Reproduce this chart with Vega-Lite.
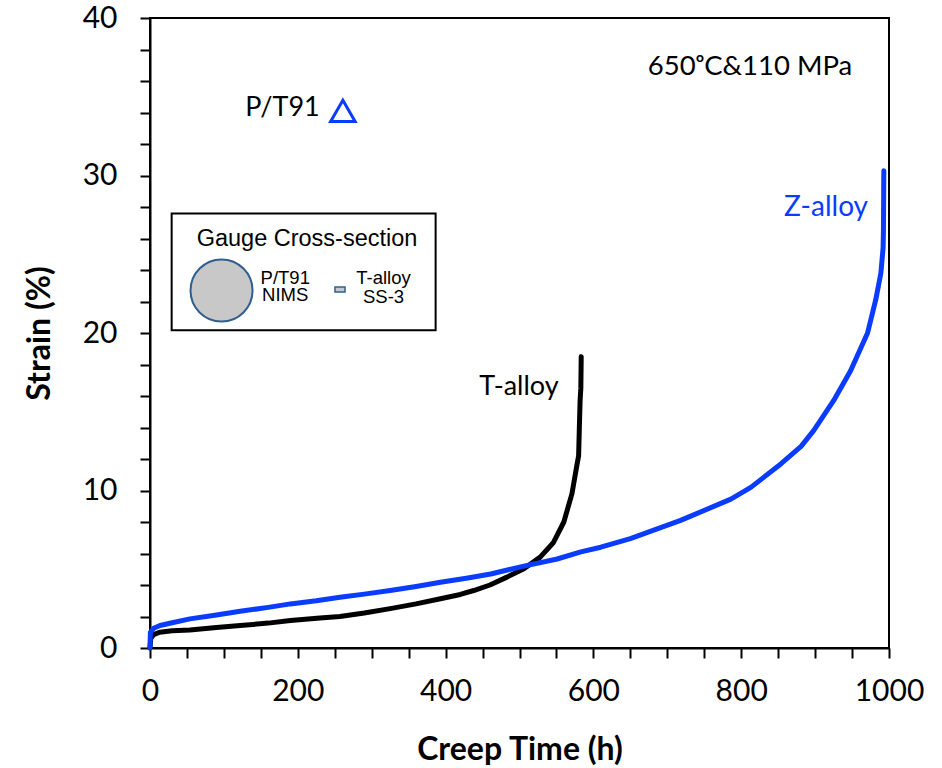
{
  "$schema": "https://vega.github.io/schema/vega-lite/v6.json",
  "width": 739,
  "height": 630,
  "autosize": {"type": "none"},
  "padding": {"left": 150, "top": 18, "right": 53, "bottom": 120},
  "background": "white",
  "config": {
    "view": {"stroke": "black", "strokeWidth": 2},
    "font": "Lato"
  },
  "datasets": {
    "curves": [
      {"alloy": "T-alloy", "t": 0, "strain": 0},
      {"alloy": "T-alloy", "t": 1, "strain": 0.6},
      {"alloy": "T-alloy", "t": 5, "strain": 0.85},
      {"alloy": "T-alloy", "t": 13, "strain": 1.0},
      {"alloy": "T-alloy", "t": 30, "strain": 1.1},
      {"alloy": "T-alloy", "t": 54, "strain": 1.15},
      {"alloy": "T-alloy", "t": 90, "strain": 1.3},
      {"alloy": "T-alloy", "t": 122, "strain": 1.43},
      {"alloy": "T-alloy", "t": 160, "strain": 1.58},
      {"alloy": "T-alloy", "t": 190, "strain": 1.75},
      {"alloy": "T-alloy", "t": 230, "strain": 1.9},
      {"alloy": "T-alloy", "t": 257, "strain": 2.0},
      {"alloy": "T-alloy", "t": 290, "strain": 2.22},
      {"alloy": "T-alloy", "t": 325, "strain": 2.5},
      {"alloy": "T-alloy", "t": 360, "strain": 2.8},
      {"alloy": "T-alloy", "t": 393, "strain": 3.13},
      {"alloy": "T-alloy", "t": 420, "strain": 3.4},
      {"alloy": "T-alloy", "t": 438, "strain": 3.65},
      {"alloy": "T-alloy", "t": 460, "strain": 4.0},
      {"alloy": "T-alloy", "t": 483, "strain": 4.5},
      {"alloy": "T-alloy", "t": 506, "strain": 5.03},
      {"alloy": "T-alloy", "t": 528, "strain": 5.77},
      {"alloy": "T-alloy", "t": 546, "strain": 6.7},
      {"alloy": "T-alloy", "t": 560, "strain": 8.0},
      {"alloy": "T-alloy", "t": 571, "strain": 9.8},
      {"alloy": "T-alloy", "t": 578, "strain": 11.7},
      {"alloy": "T-alloy", "t": 580, "strain": 12.2},
      {"alloy": "T-alloy", "t": 581, "strain": 14.0},
      {"alloy": "T-alloy", "t": 582, "strain": 15.7},
      {"alloy": "T-alloy", "t": 583, "strain": 16.5},
      {"alloy": "T-alloy", "t": 583.5, "strain": 18.5},
      {"alloy": "Z-alloy", "t": 0, "strain": 0},
      {"alloy": "Z-alloy", "t": 0.5, "strain": 1.0},
      {"alloy": "Z-alloy", "t": 5, "strain": 1.25},
      {"alloy": "Z-alloy", "t": 13.5, "strain": 1.43},
      {"alloy": "Z-alloy", "t": 30, "strain": 1.6},
      {"alloy": "Z-alloy", "t": 54, "strain": 1.85},
      {"alloy": "Z-alloy", "t": 90, "strain": 2.1},
      {"alloy": "Z-alloy", "t": 122, "strain": 2.33},
      {"alloy": "Z-alloy", "t": 160, "strain": 2.58},
      {"alloy": "Z-alloy", "t": 190, "strain": 2.8},
      {"alloy": "Z-alloy", "t": 225, "strain": 3.0},
      {"alloy": "Z-alloy", "t": 257, "strain": 3.22},
      {"alloy": "Z-alloy", "t": 290, "strain": 3.42},
      {"alloy": "Z-alloy", "t": 325, "strain": 3.65},
      {"alloy": "Z-alloy", "t": 360, "strain": 3.9},
      {"alloy": "Z-alloy", "t": 393, "strain": 4.17},
      {"alloy": "Z-alloy", "t": 430, "strain": 4.45},
      {"alloy": "Z-alloy", "t": 461, "strain": 4.7},
      {"alloy": "Z-alloy", "t": 506, "strain": 5.2},
      {"alloy": "Z-alloy", "t": 551, "strain": 5.65},
      {"alloy": "Z-alloy", "t": 583, "strain": 6.1},
      {"alloy": "Z-alloy", "t": 610, "strain": 6.4},
      {"alloy": "Z-alloy", "t": 650, "strain": 6.95},
      {"alloy": "Z-alloy", "t": 718, "strain": 8.1},
      {"alloy": "Z-alloy", "t": 786, "strain": 9.45},
      {"alloy": "Z-alloy", "t": 813, "strain": 10.2},
      {"alloy": "Z-alloy", "t": 854, "strain": 11.7},
      {"alloy": "Z-alloy", "t": 881, "strain": 12.8},
      {"alloy": "Z-alloy", "t": 898, "strain": 13.8},
      {"alloy": "Z-alloy", "t": 925, "strain": 15.7},
      {"alloy": "Z-alloy", "t": 948, "strain": 17.6},
      {"alloy": "Z-alloy", "t": 971, "strain": 20.0},
      {"alloy": "Z-alloy", "t": 982, "strain": 22.1},
      {"alloy": "Z-alloy", "t": 989, "strain": 23.8},
      {"alloy": "Z-alloy", "t": 992, "strain": 25.4},
      {"alloy": "Z-alloy", "t": 992.5, "strain": 26.5},
      {"alloy": "Z-alloy", "t": 993, "strain": 30.3}
    ]
  },
  "layer": [
    {
      "data": {"values": [{"t0": 29.3, "t1": 386.5, "s0": 20.17, "s1": 27.59}]},
      "mark": {"type": "rect", "fill": "white", "stroke": "black", "strokeWidth": 2},
      "encoding": {
        "x": {"field": "t0", "type": "quantitative"},
        "x2": {"field": "t1"},
        "y": {"field": "s0", "type": "quantitative"},
        "y2": {"field": "s1"}
      }
    },
    {
      "data": {"name": "curves"},
      "mark": {"type": "line", "strokeWidth": 5, "strokeJoin": "round", "strokeCap": "round"},
      "encoding": {
        "x": {
          "field": "t", "type": "quantitative",
          "scale": {"domain": [0, 1000], "nice": false, "zero": true},
          "axis": {
            "title": "Creep Time (h)",
            "values": [0,50,100,150,200,250,300,350,400,450,500,550,600,650,700,750,800,850,900,950,1000],
            "tickCount": 30,
            "format": "d",
            "labelExpr": "datum.value % 200 === 0 ? datum.label : ''",
            "grid": false, "tickSize": 10, "tickWidth": 2, "tickColor": "black",
            "domainWidth": 2, "domainColor": "black",
            "labelFont": "Lato", "labelFontSize": 30, "labelColor": "black",
            "labelFlush": false, "labelOverlap": false, "labelBound": false, "labelPadding": 18,
            "titleFont": "Lato", "titleFontSize": 32, "titleFontWeight": "bold", "titleColor": "black", "titlePadding": 28
          }
        },
        "y": {
          "field": "strain", "type": "quantitative",
          "scale": {"domain": [0, 40], "nice": false},
          "axis": {
            "title": "Strain (%)",
            "values": [0,2,4,6,8,10,12,14,16,18,20,22,24,26,28,30,32,34,36,38,40],
            "tickCount": 30,
            "format": "d",
            "labelExpr": "datum.value % 10 === 0 ? datum.label : ''",
            "grid": false, "tickSize": 10, "tickWidth": 2, "tickColor": "black",
            "domainWidth": 2, "domainColor": "black",
            "labelFont": "Lato", "labelFontSize": 30, "labelColor": "black",
            "labelFlush": false, "labelOverlap": false, "labelBound": false, "labelPadding": 23,
            "titleFont": "Lato", "titleFontSize": 32, "titleFontWeight": "bold", "titleColor": "black", "titlePadding": 26
          }
        },
        "color": {
          "field": "alloy", "type": "nominal",
          "scale": {"domain": ["T-alloy", "Z-alloy"], "range": ["#000000", "#0a3cff"]},
          "legend": null
        }
      }
    },
    {
      "data": {"values": [{"t": 261, "strain": 34.1}]},
      "mark": {"type": "point", "shape": "triangle-up", "size": 600, "filled": false, "stroke": "#0a3cff", "strokeWidth": 3, "opacity": 1},
      "encoding": {"x": {"field": "t", "type": "quantitative"}, "y": {"field": "strain", "type": "quantitative"}}
    },
    {
      "data": {"values": [{"t": 179.3, "strain": 34.3, "label": "P/T91"}, {"t": 499.3, "strain": 16.6, "label": "T-alloy"}]},
      "mark": {"type": "text", "font": "Lato", "fontSize": 27, "color": "black", "align": "center", "baseline": "middle"},
      "encoding": {"x": {"field": "t", "type": "quantitative"}, "y": {"field": "strain", "type": "quantitative"}, "text": {"field": "label"}}
    },
    {
      "data": {"values": [{"t": 812, "strain": 36.9, "label": "650ᵒC&110 MPa"}]},
      "mark": {"type": "text", "font": "Lato", "fontSize": 27.5, "color": "black", "align": "center", "baseline": "middle"},
      "encoding": {"x": {"field": "t", "type": "quantitative"}, "y": {"field": "strain", "type": "quantitative"}, "text": {"field": "label"}}
    },
    {
      "data": {"values": [{"t": 914.7, "strain": 27.95, "label": "Z-alloy"}]},
      "mark": {"type": "text", "font": "Lato", "fontSize": 28, "color": "#0a3cff", "align": "center", "baseline": "middle"},
      "encoding": {"x": {"field": "t", "type": "quantitative"}, "y": {"field": "strain", "type": "quantitative"}, "text": {"field": "label"}}
    },
    {
      "data": {"values": [{"t": 212.5, "strain": 26.0, "label": "Gauge Cross-section"}]},
      "mark": {"type": "text", "font": "Liberation Sans", "fontSize": 23.5, "color": "black", "align": "center", "baseline": "middle"},
      "encoding": {"x": {"field": "t", "type": "quantitative"}, "y": {"field": "strain", "type": "quantitative"}, "text": {"field": "label"}}
    },
    {
      "data": {"values": [{"t": 96.8, "strain": 22.7}]},
      "mark": {"type": "point", "shape": "circle", "size": 3850, "filled": true, "fill": "#c8c8c8", "stroke": "#2f5f8f", "strokeWidth": 2, "opacity": 1},
      "encoding": {"x": {"field": "t", "type": "quantitative"}, "y": {"field": "strain", "type": "quantitative"}}
    },
    {
      "data": {"values": [{"t0": 250.3, "t1": 263.9, "s0": 22.6, "s1": 22.92}]},
      "mark": {"type": "rect", "fill": "#c0c8d4", "stroke": "#2f5f8f", "strokeWidth": 1.5},
      "encoding": {
        "x": {"field": "t0", "type": "quantitative"},
        "x2": {"field": "t1"},
        "y": {"field": "s0", "type": "quantitative"},
        "y2": {"field": "s1"}
      }
    },
    {
      "data": {"values": [
        {"t": 183, "strain": 23.5, "label": "P/T91"},
        {"t": 183, "strain": 22.4, "label": "NIMS"},
        {"t": 316, "strain": 23.5, "label": "T-alloy"},
        {"t": 316, "strain": 22.3, "label": "SS-3"}
      ]},
      "mark": {"type": "text", "font": "Liberation Sans", "fontSize": 18.5, "color": "black", "align": "center", "baseline": "middle"},
      "encoding": {"x": {"field": "t", "type": "quantitative"}, "y": {"field": "strain", "type": "quantitative"}, "text": {"field": "label"}}
    }
  ]
}
